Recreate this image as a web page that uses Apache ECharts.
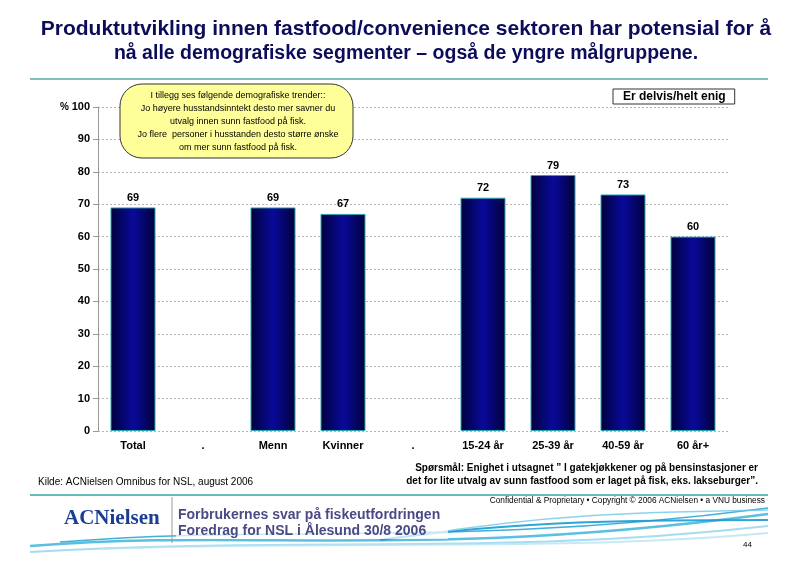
<!DOCTYPE html>
<html><head><meta charset="utf-8">
<script src="https://cdn.jsdelivr.net/npm/echarts@6/dist/echarts.min.js"></script>
<style>html,body{margin:0;padding:0;background:#fff}#c{width:812px;height:571px}</style>
</head><body><div id="c"></div>
<script>
const categories = ['Total', '.', 'Menn', 'Kvinner', '.', '15-24 år', '25-39 år', '40-59 år', '60 år+'];
const values = [69, null, 69, 67, null, 72, 79, 73, 60];
const seriesName = 'Er delvis/helt enig';
const yTicks = { min: 0, max: 100, interval: 10 };
const titleLines = ['Produktutvikling innen fastfood/convenience sektoren har potensial for å', 'nå alle demografiske segmenter – også de yngre målgruppene.'];
const calloutLines = ['I tillegg ses følgende demografiske trender::', 'Jo høyere husstandsinntekt desto mer savner du', 'utvalg innen sunn fastfood på fisk.', 'Jo flere  personer i husstanden desto større ønske', 'om mer sunn fastfood på fisk.'];
const sourceText = 'Kilde: ACNielsen Omnibus for NSL, august 2006';
const questionLines = ['Spørsmål: Enighet i utsagnet ” I gatekjøkkener og på bensinstasjoner er', 'det for lite utvalg av sunn fastfood som er laget på fisk, eks. lakseburger”.'];
const footerLines = ['Forbrukernes svar på fiskeutfordringen', 'Foredrag for NSL i Ålesund 30/8 2006'];
const copyrightText = 'Confidential & Proprietary • Copyright © 2006 ACNielsen • a VNU business';
const pageNo = '44';

const chart = echarts.init(document.getElementById('c'));
const F = 'Liberation Sans, Arial, sans-serif';
const barGrad = new echarts.graphic.LinearGradient(0, 0, 1, 0, [
  { offset: 0, color: '#00003c' },
  { offset: 0.5, color: '#0a0a9a' },
  { offset: 1, color: '#00003c' }
]);
function wave(x1, y1, cx1, cy1, cx2, cy2, x2, y2, color, w, op) {
  return { type: 'bezierCurve', silent: true, z: 1,
    shape: { x1, y1, cpx1: cx1, cpy1: cy1, cpx2: cx2, cpy2: cy2, x2, y2 },
    style: { stroke: color, lineWidth: w, fill: null, opacity: op } };
}
chart.setOption({
  animation: false,
  backgroundColor: '#fff',
  grid: { left: 98, right: 84, top: 107, bottom: 140 },
  legend: {
    data: [seriesName], left: 613, top: 89, icon: 'none', itemWidth: 0, itemGap: 0,
    backgroundColor: '#fff', borderColor: '#333', borderWidth: 1, padding: [1, 9, 1, 5],
    textStyle: { fontFamily: F, fontWeight: 'bold', fontSize: 12, color: '#000' },
    selectedMode: false
  },
  xAxis: {
    type: 'category', data: categories,
    axisLine: { show: false }, axisTick: { show: false },
    axisLabel: { fontFamily: F, fontWeight: 'bold', fontSize: 11, color: '#000', margin: 9, interval: 0 }
  },
  yAxis: {
    type: 'value', min: yTicks.min, max: yTicks.max, interval: yTicks.interval,
    axisLine: { show: true, lineStyle: { color: '#999', width: 1 } },
    axisTick: { show: true, length: 5, lineStyle: { color: '#999' } },
    axisLabel: { fontFamily: F, fontWeight: 'bold', fontSize: 11, color: '#000', margin: 8 },
    splitLine: { show: true, lineStyle: { color: '#b4b4b4', type: [2, 2], width: 1 } }
  },
  series: [{
    name: seriesName, type: 'bar', data: values, barWidth: 45,
    itemStyle: { color: barGrad, borderColor: '#2aa6b0', borderWidth: 1 },
    label: { show: true, position: 'top', distance: 4, fontFamily: F, fontWeight: 'bold', fontSize: 11, color: '#000' }
  }],
  graphic: [
    { type: 'text', x: 406, y: 19, style: { text: titleLines[0], font: 'bold 21px ' + F, fill: '#0c0c5a', textAlign: 'center' } },
    { type: 'text', x: 406, y: 44, style: { text: titleLines[1], font: 'bold 19.5px ' + F, fill: '#0c0c5a', textAlign: 'center' } },
    { type: 'line', shape: { x1: 30, y1: 79, x2: 768, y2: 79 }, style: { stroke: '#5aa8a8', lineWidth: 1.5 } },
    { type: 'text', left: 60, top: 102, style: { text: '%', font: 'bold 10px ' + F, fill: '#000' } },
    { type: 'rect', z: 10, shape: { x: 120, y: 84, width: 233, height: 74, r: 22 }, style: { fill: '#ffff99', stroke: '#333', lineWidth: 1 } },
    { type: 'text', z: 11, x: 238, y: 89, style: { text: calloutLines.join('\n'), font: '9px ' + F, fill: '#000', textAlign: 'center', lineHeight: 13 } },
    { type: 'text', left: 38, top: 477, style: { text: sourceText, font: '10px ' + F, fill: '#000' } },
    { type: 'text', x: 758, y: 462, style: { text: questionLines.join('\n'), font: 'bold 10px ' + F, fill: '#000', textAlign: 'right', lineHeight: 13 } },
    { type: 'line', shape: { x1: 30, y1: 495, x2: 768, y2: 495 }, style: { stroke: '#3aa0a0', lineWidth: 1.5 } },
    { type: 'text', x: 765, y: 497, style: { text: copyrightText, font: '8.3px ' + F, fill: '#000', textAlign: 'right' } },
    wave(30, 546, 250, 528, 420, 560, 768, 514, '#49b8dc', 2.5, 0.9),
    wave(30, 552, 300, 536, 500, 556, 768, 526, '#8fd3ec', 2, 0.8),
    wave(60, 542, 280, 524, 460, 548, 768, 508, '#2aa8d6', 1.5, 0.9),
    wave(100, 549, 320, 540, 560, 552, 768, 533, '#b8e4f2', 2, 0.8),
    wave(380, 540, 520, 520, 640, 520, 768, 520, '#1a9ad0', 2, 0.9),
    wave(420, 535, 560, 512, 660, 512, 768, 510, '#6ec8e8', 1.5, 0.8),
    { type: 'rect', z: 5, shape: { x: 62, y: 505, width: 100, height: 30 }, style: { fill: '#fff' } },
    { type: 'text', z: 6, x: 64, y: 508, style: { text: 'ACNielsen', font: 'bold 21px "Liberation Serif", serif', fill: '#1c3d94' } },
    { type: 'line', z: 6, shape: { x1: 172, y1: 497, x2: 172, y2: 543 }, style: { stroke: '#999', lineWidth: 1 } },
    { type: 'rect', z: 5, shape: { x: 176, y: 505, width: 272, height: 34 }, style: { fill: 'rgba(255,255,255,0.7)' } },
    { type: 'text', z: 6, x: 178, y: 507, style: { text: footerLines.join('\n'), font: 'bold 14px ' + F, fill: '#4a4a84', lineHeight: 16 } },
    { type: 'text', z: 6, x: 752, y: 541, style: { text: pageNo, font: '8px ' + F, fill: '#000', textAlign: 'right' } }
  ]
});
</script></body></html>
